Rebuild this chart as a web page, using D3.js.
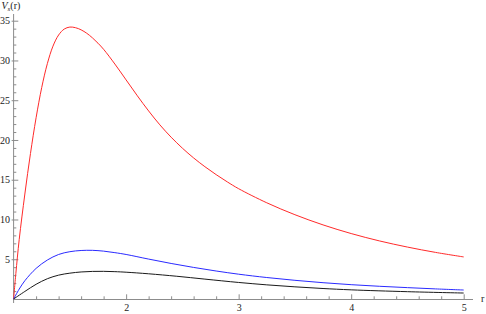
<!DOCTYPE html>
<html>
<head>
<meta charset="utf-8">
<script src="https://d3js.org/d3.v7.min.js"></script>
<style>
  html, body { margin: 0; padding: 0; background: #fff; }
  svg { display: block; }
  .axis text { font-family: 'Liberation Serif', 'DejaVu Serif', serif; font-size: 10px; fill: #222; }
  .axis line, .axis path { stroke: #8c8c8c; }
  .lbl { font-family: 'Liberation Serif', 'DejaVu Serif', serif; font-size: 10px; fill: #222; }
</style>
</head>
<body>
<div id="chart"></div>
<script>
const rRed   = [1.00, 1.02, 1.05, 1.10, 1.15, 1.20, 1.25, 1.30, 1.35, 1.40, 1.45, 1.50, 1.55, 1.60, 1.65, 1.70, 1.75, 1.80, 1.90, 2.00, 2.10, 2.20, 2.30, 2.40, 2.50, 2.60, 2.70, 2.80, 2.90, 3.00, 3.25, 3.50, 3.75, 4.00, 4.25, 4.50, 4.75, 5.00];
const vRed   = [0, 3.2, 7.5, 13.2, 18.3, 22.8, 26.6, 29.6, 31.8, 33.2, 33.95, 34.2, 34.12, 33.85, 33.42, 32.85, 32.17, 31.4, 29.55, 27.55, 25.55, 23.65, 21.9, 20.35, 18.97, 17.74, 16.64, 15.64, 14.72, 13.87, 12.1, 10.6, 9.32, 8.23, 7.31, 6.53, 5.86, 5.29];

const rBlue  = [1.00, 1.05, 1.10, 1.20, 1.30, 1.40, 1.50, 1.60, 1.70, 1.80, 1.90, 2.00, 2.20, 2.40, 2.60, 2.80, 3.00, 3.25, 3.50, 3.75, 4.00, 4.25, 4.50, 4.75, 5.00];
const vBlue  = [0, 1.25, 2.3, 3.85, 4.9, 5.6, 5.95, 6.1, 6.12, 6.02, 5.83, 5.6, 5.02, 4.47, 3.97, 3.52, 3.12, 2.7, 2.35, 2.05, 1.8, 1.6, 1.43, 1.27, 1.13];

const rBlack = [1.00, 1.10, 1.20, 1.30, 1.40, 1.50, 1.60, 1.70, 1.80, 1.90, 2.00, 2.20, 2.45, 2.70, 3.00, 3.25, 3.50, 3.75, 4.00, 4.50, 5.00];
const vBlack = [0, 0.95, 1.85, 2.55, 3.0, 3.25, 3.4, 3.47, 3.48, 3.44, 3.37, 3.17, 2.86, 2.5, 2.08, 1.78, 1.53, 1.32, 1.15, 0.92, 0.75];

const xMajor = [2, 3, 4, 5];
const yMajor = [5, 10, 15, 20, 25, 30, 35];

const series = [
    { r: rRed, v: vRed, color: '#ff2a2a' },
    { r: rBlue, v: vBlue, color: '#2a2aff' },
    { r: rBlack, v: vBlack, color: '#1a1a1a' }
];

const width = 486, height = 314;

const x = d3.scaleLinear().domain([1, 5]).range([13.6, 463.7]);
const y = d3.scaleLinear().domain([0, 35]).range([299, 20.7]);

const svg = d3.select('#chart').append('svg')
    .attr('width', width)
    .attr('height', height);

// minor ticks
const xMinor = d3.range(1.2, 5.001, 0.2).filter(d => Math.abs(d - Math.round(d)) > 1e-6);
const yMinor = d3.range(1, 35, 1).filter(d => d % 5 !== 0);

svg.append('g')
    .attr('class', 'axis')
    .attr('transform', `translate(0,${y(0)})`)
    .call(d3.axisBottom(x).tickValues(xMinor).tickSize(-2.7).tickFormat(''))
    .call(g => g.select('.domain').remove());

svg.append('g')
    .attr('class', 'axis')
    .attr('transform', `translate(${x(1)},0)`)
    .call(d3.axisLeft(y).tickValues(yMinor).tickSize(-2.7).tickFormat(''))
    .call(g => g.select('.domain').remove());

// major ticks + labels
svg.append('g')
    .attr('class', 'axis')
    .attr('transform', `translate(0,${y(0)})`)
    .call(d3.axisBottom(x).tickValues(xMajor).tickSize(-4.7).tickPadding(4.5).tickFormat(d3.format('d')))
    .call(g => g.select('.domain').remove());

svg.append('g')
    .attr('class', 'axis')
    .attr('transform', `translate(${x(1)},0)`)
    .call(d3.axisLeft(y).tickValues(yMajor).tickSize(-4.7).tickPadding(3.5).tickFormat(d3.format('d')))
    .call(g => g.select('.domain').remove())
    .call(g => g.selectAll('.tick line').attr('x1', -2));

// axis lines, a bit past the data like mathematica does
svg.append('line')
    .attr('x1', x(1)).attr('x2', 473)
    .attr('y1', y(0) + 0.5).attr('y2', y(0) + 0.5)
    .attr('stroke', '#8c8c8c');
svg.append('line')
    .attr('x1', x(1)).attr('x2', x(1))
    .attr('y1', 303).attr('y2', 14)
    .attr('stroke', '#8c8c8c');

// curves
const line = d3.line()
    .x(d => x(d[0]))
    .y(d => y(d[1]))
    .curve(d3.curveCatmullRom.alpha(0.5));

series.forEach(s => {
    svg.append('path')
        .datum(d3.zip(s.r, s.v))
        .attr('fill', 'none')
        .attr('stroke', s.color)
        .attr('stroke-width', 1)
        .attr('d', line);
});

// axis labels
const yl = svg.append('text').attr('class', 'lbl').attr('x', 1.5).attr('y', 8.5);
yl.append('tspan').attr('font-style', 'italic').text('V');
yl.append('tspan').attr('font-style', 'italic').attr('font-size', '7px').attr('dy', 2).text('s');
yl.append('tspan').attr('dy', -2).text('(r)');

svg.append('text').attr('class', 'lbl')
    .attr('x', 481).attr('y', 301.5)
    .text('r');
</script>
</body>
</html>
